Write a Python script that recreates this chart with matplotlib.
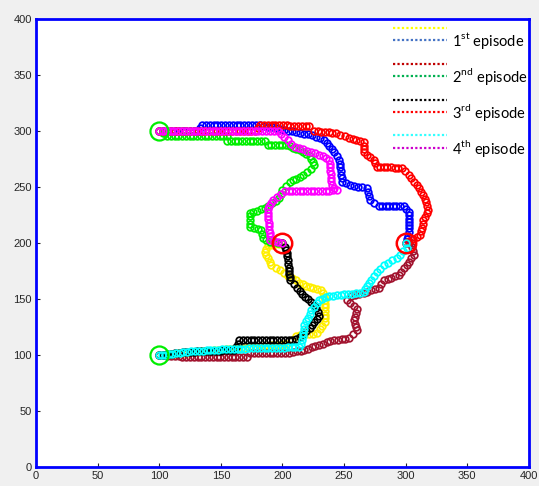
"""Two agents, four episodes: grid walks from the start points to the goals."""

import matplotlib

matplotlib.use("Agg")
import matplotlib.pyplot as plt
import numpy as np

plt.rcParams["mathtext.fontset"] = "custom"
plt.rcParams["mathtext.rm"] = "Lato"

STEP = 3.1  # one grid move

starts = [(100, 300), (100, 100)]
goals = [(200, 200), (300, 200)]

# corner points of every walk (x, y)
yellow_path = [(100, 100), (157, 105.4), (204, 109.8), (211, 117), (228, 119.6),
               (234.7, 129.5), (234.7, 149), (231.5, 158), (222, 160.7), (213.7, 164.3),
               (201.6, 173.2), (191, 180.4), (185.5, 192), (188, 198), (200, 200)]
blue_path = [(100, 300), (131.5, 300), (134.7, 305.4), (181.5, 305.4), (201.6, 301),
             (224, 296.4), (234, 292), (242, 281), (246, 274), (248.4, 254.5),
             (258, 251), (268.5, 249), (271, 238.4), (278, 233), (298.4, 233),
             (303, 227.7), (303, 210), (300, 200)]
maroon_path = [(100, 100), (125, 98.2), (171, 98.2), (173.4, 101.8), (205.6, 101.8),
               (217.7, 104.5), (229.8, 109), (242, 113.4), (254, 115), (260.5, 122),
               (258, 131), (260.5, 141), (252.4, 149), (255.6, 153), (266, 155.4),
               (278.2, 160), (282.3, 167), (294.4, 171.4), (300.8, 180.4),
               (306.5, 189.3), (304.8, 200), (300, 200)]
green_path = [(100, 300), (106.5, 295.5), (155, 295.5), (155, 291), (185.5, 291),
              (188, 287.5), (203, 287.5), (214, 283), (222, 278), (226, 270),
              (220, 263), (214, 259), (206, 254.5), (200, 247), (197.6, 240),
              (185.5, 231), (173.4, 227), (173.4, 214), (183, 211.6), (184, 204.5),
              (190, 201), (200, 200)]
black_path = [(100, 100), (119, 102.7), (161, 104.5), (165, 113), (208, 113),
              (214, 116), (222, 124), (230, 135), (226, 145), (218, 152), (212, 160),
              (206, 167), (205, 178), (204, 188), (202, 196), (200, 200)]
red_path = [(100, 300), (178, 300), (182, 305.4), (221.8, 304.5), (225.8, 300),
            (243.5, 298), (254, 294), (266, 290), (266, 281), (274, 274),
            (276.6, 268), (296.8, 267), (302.4, 260.7), (308.9, 251.8), (314.5, 243),
            (318.5, 229.5), (314.5, 220.5), (312, 207), (300, 200)]
cyan_path = [(100, 100), (104.8, 100), (119.4, 102.7), (157.3, 105.4), (213.7, 107),
             (216, 113.4), (217.7, 126.8), (223.4, 140), (229.8, 149), (237.9, 152.7),
             (266, 156), (270, 164), (276.6, 174), (282.3, 180), (292.7, 186.6),
             (300.8, 195.5), (300, 200)]
magenta_path = [(100, 300), (103, 300), (196, 300), (210, 286), (230, 279), (238, 274),
                (240, 252), (244, 247), (202, 246), (192, 238), (188, 230), (190, 203),
                (200, 200)]

# drawn in episode order, two agents each
paths = [yellow_path, blue_path, maroon_path, green_path,
         black_path, red_path, cyan_path, magenta_path]
path_colors = ["#ffee00", "#0000ff", "#a2142f", "#00ee00",
               "#000000", "#ff0000", "#00ffff", "#ff00ff"]

episodes = ["1$^{\\mathrm{st}}$ episode", "2$^{\\mathrm{nd}}$ episode",
            "3$^{\\mathrm{rd}}$ episode", "4$^{\\mathrm{th}}$ episode"]
legend_colors = [("#ffff00", "#4472c4"), ("#c00000", "#00b050"),
                 ("#000000", "#ff0000"), ("#33ffff", "#cc00cc")]


def walk(corners):
    """Expand corner points into single grid moves."""
    pts = [np.array(corners[0], float)]
    for a, b in zip(corners[:-1], corners[1:]):
        a = np.array(a, float)
        b = np.array(b, float)
        n = max(1, int(round(np.abs(b - a).max() / STEP)))
        for t in np.arange(1, n + 1) / n:
            pts.append(a + (b - a) * t)
    return np.array(pts)


fig = plt.figure(figsize=(5.39, 4.86), dpi=100, facecolor="#f0f0f0")
ax = fig.add_axes([0.067, 0.039, 0.914, 0.922])
ax.set_facecolor("white")

for path, color in zip(paths, path_colors):
    pts = walk(path)
    ax.plot(pts[:, 0], pts[:, 1], linestyle="none", marker="o", ms=4.8,
            mfc="none", mec=color, mew=1.25)

for x, y in starts:
    ax.plot(x, y, marker="o", ms=13, mfc="none", mec="#00ee00", mew=1.6)
for x, y in goals:
    ax.plot(x, y, marker="o", ms=14, mfc="none", mec="#ff0000", mew=1.8)

ax.set_xlim(0, 400)
ax.set_ylim(0, 400)
ax.set_xticks(np.arange(0, 401, 50))
ax.set_yticks(np.arange(0, 401, 50))
ax.tick_params(direction="in", length=3, color="#262626", labelcolor="#262626",
               labelsize=8, pad=3)
for label in ax.get_xticklabels() + ax.get_yticklabels():
    label.set_family("Liberation Sans")
for spine in ax.spines.values():
    spine.set_color("#0000ff")
    spine.set_linewidth(2)

# legend drawn by hand: two dotted lines per episode
for i, (label, (c1, c2)) in enumerate(zip(episodes, legend_colors)):
    y = 0.980 - i * 0.080
    ax.plot([0.724, 0.834], [y, y], transform=ax.transAxes, color=c1,
            lw=1.6, linestyle=(0, (1, 1)))
    ax.plot([0.724, 0.834], [y - 0.028, y - 0.028], transform=ax.transAxes,
            color=c2, lw=1.6, linestyle=(0, (1, 1)))
    ax.text(0.844, y - 0.028, label, transform=ax.transAxes, fontsize=10.5,
            family="Lato", va="center", ha="left", color="black")

fig.savefig("out.png", dpi=100, facecolor=fig.get_facecolor())
